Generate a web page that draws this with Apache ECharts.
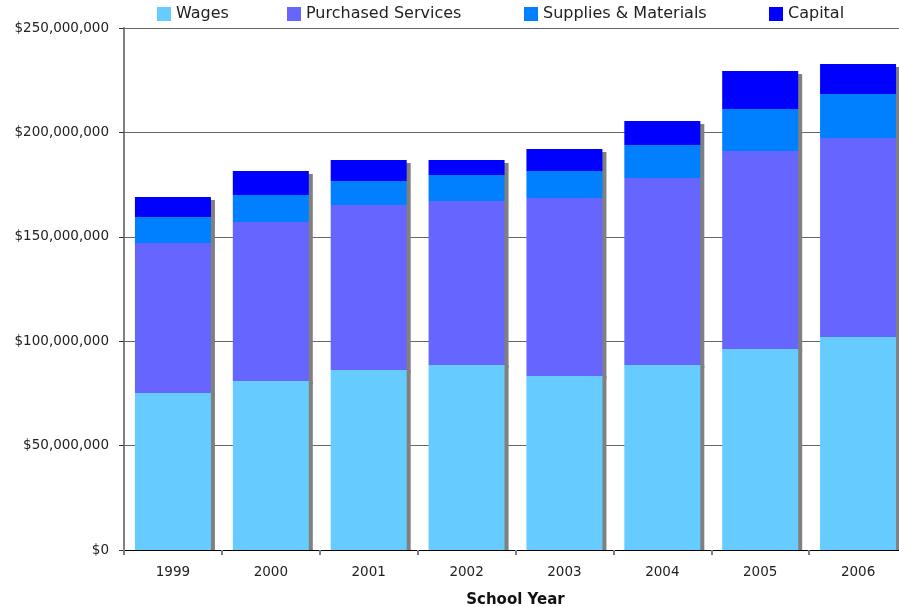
<!DOCTYPE html>
<html>
<head>
<meta charset="utf-8">
<script src="https://cdn.jsdelivr.net/npm/echarts@6/dist/echarts.min.js"></script>
<style>html,body{margin:0;padding:0;background:#fff;}#c{width:899px;height:607px;}</style>
</head>
<body>
<div id="c"></div>
<script>
const categories = ['1999','2000','2001','2002','2003','2004','2005','2006'];
const wages      = [75.2, 80.9, 86.2, 88.6, 83.3, 88.6, 96.3, 102.0];
const purchased  = [71.8, 76.2, 79.0, 78.5, 85.3, 89.6, 94.8, 95.3];
const supplies   = [12.5, 12.9, 11.5, 12.5, 12.9, 15.8, 20.1, 21.1];
const capital    = [9.6, 11.5, 10.1, 7.2, 10.5, 11.5, 18.2, 14.4];
const seriesNames = ['Wages','Purchased Services','Supplies & Materials','Capital'];
const colors = ['#66CCFF','#6666FF','#0080FF','#0000FF'];
const M = 1000000;

const chart = echarts.init(document.getElementById('c'));
const font = 'DejaVu Sans, Verdana, sans-serif';
const dataSets = [wages, purchased, supplies, capital];
const legendLeft = [157, 287, 524, 769];

const series = dataSets.map((d, i) => ({
  name: seriesNames[i],
  type: 'bar',
  stack: 'total',
  barWidth: 76,
  z: 5 - i,
  data: d.map(v => v * M),
  itemStyle: {
    color: colors[i],
    shadowColor: '#808080',
    shadowBlur: 0,
    shadowOffsetX: 4,
    shadowOffsetY: i === 0 ? 0 : 3
  },
  emphasis: { disabled: true }
}));

const legends = seriesNames.map((n, i) => ({
  data: [n],
  left: legendLeft[i],
  top: 6,
  itemWidth: 14,
  itemHeight: 14,
  icon: 'rect',
  selectedMode: false,
  padding: 0,
  itemStyle: { shadowColor: 'rgba(0,0,0,0)', shadowOffsetX: 0, shadowOffsetY: 0 },
  textStyle: { fontFamily: font, fontSize: 16, color: '#222' }
}));

chart.setOption({
  animation: false,
  backgroundColor: '#fff',
  legend: legends,
  grid: { left: 124, top: 28, width: 783, height: 522, containLabel: false, outerBoundsMode: 'none' },
  xAxis: {
    type: 'category',
    data: categories,
    name: 'School Year',
    nameLocation: 'middle',
    nameGap: 43,
    nameTextStyle: { fontFamily: font, fontSize: 15, fontWeight: 'bold', color: '#111' },
    axisLine: { lineStyle: { color: '#000', width: 1 } },
    axisTick: { show: true, length: 5, lineStyle: { color: '#808080', width: 2 } },
    axisLabel: { fontFamily: font, fontSize: 13.5, color: '#222', margin: 15 }
  },
  yAxis: {
    type: 'value',
    min: 0,
    max: 250 * M,
    interval: 50 * M,
    axisLine: { show: true, lineStyle: { color: '#808080', width: 2 } },
    axisTick: { show: true, length: 5, lineStyle: { color: '#333' } },
    splitLine: { show: true, lineStyle: { color: '#666', width: 1 } },
    axisLabel: {
      fontFamily: font, fontSize: 13.5, color: '#222', margin: 15,
      formatter: v => '$' + Math.round(v).toString().replace(/\B(?=(\d{3})+(?!\d))/g, ',')
    }
  },
  graphic: [{
    type: 'rect', z: 100, silent: true,
    shape: { x: 140, y: 21, width: 759, height: 6 },
    style: { fill: '#fff' }
  }],
  series: series
});
</script>
</body>
</html>
